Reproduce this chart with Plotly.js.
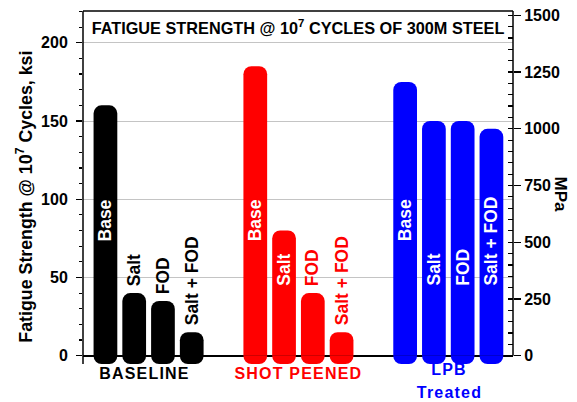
<!DOCTYPE html>
<html><head><meta charset="utf-8">
<script src="https://cdn.plot.ly/plotly-3.0.1.min.js"></script>
<style>html,body{margin:0;padding:0;background:#fff}#chart{width:577px;height:402px}</style>
</head><body><div id="chart"></div>
<script>
// ---- data ----
const groups = ['BASELINE', 'SHOT PEENED', 'LPB<br>Treated'];
const conditions = ['Base', 'Salt', 'FOD', 'Salt + FOD'];
const baselineKsi = [160, 40, 35, 15];
const shotPeenedKsi = [185, 80, 40, 15];
const lpbKsi = [175, 150, 150, 145];
const leftTickStep = 50;   // ksi
const rightTickStep = 250; // MPa
const chartTitle = 'FATIGUE STRENGTH @ 10<sup>7</sup> CYCLES OF 300M STEEL';
const leftTitle = 'Fatigue Strength @ 10<sup>7</sup> Cycles, ksi';
const rightTitle = 'MPa';
const KSI_TO_MPA = 6.89476;

// ---- style / layout constants ----
const groupColors = ['#000000', '#ff0000', '#0000ff'];
const groupLabelShift = [-4, 0, 1];
const seriesByGroup = [baselineKsi, shotPeenedKsi, lpbKsi];
const GROUP_STEP = 5.21;
const BAR_WIDTH = 0.825;
const SKIRT = 5.3;           // bar extension below the zero line (style)
const YMIN = -5.3, YMAX = 220.3;
const LABEL_FLOOR = {'Base': 72};
const DEFAULT_FLOOR = 43.5;
const LABEL_GAP = 3.3;
const FONT = 'Liberation Sans, Arial, sans-serif';

const traces = [];
const annotations = [];
seriesByGroup.forEach((vals, g) => {
  const xs = conditions.map((c, i) => g * GROUP_STEP + i);
  traces.push({
    type: 'bar', x: xs, y: vals, width: BAR_WIDTH,
    marker: {color: groupColors[g], line: {width: 0}},
    hoverinfo: 'skip'
  });
  traces.push({
    type: 'bar', x: xs, y: vals.map(() => -SKIRT), width: BAR_WIDTH,
    marker: {color: groupColors[g], line: {width: 0}},
    hoverinfo: 'skip'
  });
  conditions.forEach((c, i) => {
    const floor = (LABEL_FLOOR[c] !== undefined) ? LABEL_FLOOR[c] : DEFAULT_FLOOR;
    const inside = vals[i] > floor + 25;
    const yb = inside ? floor : vals[i] + LABEL_GAP;
    annotations.push({
      x: xs[i], y: yb, xref: 'x', yref: 'y', text: c, showarrow: false,
      textangle: -90, xanchor: 'center', yanchor: 'bottom',
      font: {family: FONT, size: 17.5, weight: 'bold', color: inside ? '#ffffff' : groupColors[g]}
    });
  });
  const lines = groups[g].split('<br>');
  const first = lines.length > 1 ? 5.5 : 9;
  lines.forEach((ln, k) => {
    annotations.push({
      x: g * GROUP_STEP + (conditions.length - 1) / 2, y: 0, xref: 'x', yref: 'paper',
      text: ln, showarrow: false, xanchor: 'center', yanchor: 'middle',
      xshift: groupLabelShift[g], yshift: -(first + k * 22.5),
      font: {family: FONT, size: 16, weight: 'bold', color: groupColors[g]}
    });
  });
});

annotations.push({
  x: -0.1373, y: 0.474, xref: 'paper', yref: 'paper', text: leftTitle, showarrow: false,
  textangle: -90, xanchor: 'center', yanchor: 'middle',
  font: {family: FONT, size: 17.8, weight: 'bold', color: '#000'}
});
annotations.push({
  x: 1.110, y: 0.479, xref: 'paper', yref: 'paper', text: rightTitle, showarrow: false,
  textangle: 90, xanchor: 'center', yanchor: 'middle',
  font: {family: FONT, size: 17, weight: 'bold', color: '#000'}
});

const tickFont = {family: FONT, size: 16, weight: 'bold', color: '#000'};
const layout = {
  width: 577, height: 402,
  margin: {l: 83, r: 64, t: 11, b: 38, pad: 0},
  paper_bgcolor: '#ffffff', plot_bgcolor: '#ffffff',
  barmode: 'overlay', barcornerradius: 8, showlegend: false,
  title: {
    text: chartTitle, xref: 'paper', x: 0.5, xanchor: 'center',
    yref: 'container', y: 1 - 28 / 402, yanchor: 'middle',
    font: {family: FONT, size: 16.3, weight: 'bold', color: '#000'}
  },
  xaxis: {range: [-0.78, 14.17], visible: false, fixedrange: true},
  yaxis: {
    range: [YMIN, YMAX], tickmode: 'linear', tick0: 0, dtick: leftTickStep,
    ticks: 'outside', ticklen: 6, tickwidth: 1.3, tickcolor: '#000',
    minor: {tickmode: 'linear', tick0: 0, dtick: 10, ticks: 'outside', ticklen: 3, tickwidth: 1.2, tickcolor: '#000', showgrid: false},
    showgrid: true, gridcolor: '#c4c4c4', gridwidth: 1,
    zeroline: true, zerolinecolor: '#000', zerolinewidth: 1.6,
    showline: false, tickfont: tickFont, ticklabelstandoff: 5, fixedrange: true
  },
  yaxis2: {
    overlaying: 'y', side: 'right', anchor: 'x',
    range: [YMIN * KSI_TO_MPA, YMAX * KSI_TO_MPA], tickmode: 'linear', tick0: 0, dtick: rightTickStep,
    ticks: 'outside', ticklen: 7, tickwidth: 1.3, tickcolor: '#000',
    minor: {tickmode: 'linear', tick0: 0, dtick: 50, ticks: 'inside', ticklen: 5, tickwidth: 1.2, tickcolor: '#000', showgrid: false},
    showgrid: false, zeroline: false, showline: false,
    tickfont: tickFont, fixedrange: true
  },
  yaxis3: {
    overlaying: 'y', side: 'right', anchor: 'x',
    range: [YMIN * KSI_TO_MPA, YMAX * KSI_TO_MPA], tickmode: 'linear', tick0: 0, dtick: rightTickStep,
    ticks: 'inside', ticklen: 5, tickwidth: 1.3, tickcolor: '#000',
    showticklabels: false, showgrid: false, zeroline: false, showline: false, fixedrange: true
  },
  shapes: [
    {type: 'line', xref: 'paper', yref: 'paper', x0: 0, x1: 0, y0: 0, y1: 1, line: {color: '#000', width: 1.5}},
    {type: 'line', xref: 'paper', yref: 'paper', x0: 0, x1: 1, y0: 1, y1: 1, line: {color: '#000', width: 1.5}},
    {type: 'line', xref: 'paper', yref: 'y', x0: 1, x1: 1, y0: 0, y1: YMAX, line: {color: '#000', width: 1.5}}
  ],
  annotations: annotations
};

// dummy traces so the secondary axes render
traces.push({type: 'scatter', x: [null], y: [null], yaxis: 'y2', hoverinfo: 'skip', showlegend: false});
traces.push({type: 'scatter', x: [null], y: [null], yaxis: 'y3', hoverinfo: 'skip', showlegend: false});

Plotly.newPlot('chart', traces, layout, {displayModeBar: false, staticPlot: true}).then(() => {
  const names = new Set();
  groups.forEach(g => g.split('<br>').forEach(s => names.add(s)));
  document.querySelectorAll('.annotation-text').forEach(t => {
    if (names.has(t.textContent)) t.style.letterSpacing = '1.2px';
  });
});
</script>
</body></html>
